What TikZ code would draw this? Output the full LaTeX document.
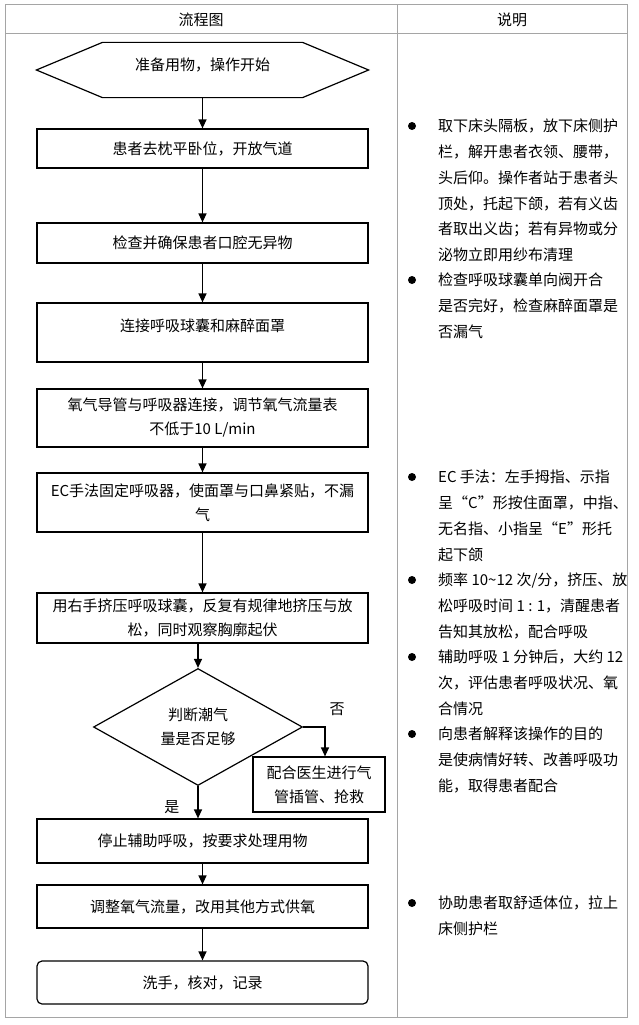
\documentclass[tikz,border=0pt]{standalone}
\usepackage{fontspec}
\setmainfont{Noto Sans CJK SC}
\usepackage{xcolor}
\usepackage{tikz}
\usetikzlibrary{
  shapes.geometric,
  arrows.meta,
  positioning,
  calc
}
\definecolor{tablegray}{RGB}{165,165,165}

\begin{document}
\begin{tikzpicture}[
  x=1pt, y=-1pt,
  every node/.style={font=\fontsize{15}{24}\selectfont},
  stepbox/.style={rectangle, draw, line width=1.2pt, minimum width=331pt,
    align=center, inner sep=2pt},
  decision/.style={diamond, draw, line width=1.2pt, aspect=1.79,
    minimum width=209pt, minimum height=117pt, inner sep=0pt, align=center},
  bulletdot/.style={circle, fill, minimum size=8pt, inner sep=0pt},
  notetext/.style={anchor=base west, align=left, inner sep=0pt,
    font=\fontsize{15}{25.8}\selectfont},
  edgelabel/.style={inner sep=0pt},
  arr/.style={-{Triangle[length=9pt,width=8pt]}, line width=1.2pt},
]
  \useasboundingbox (0,0) rectangle (639,1025);

  % Table
  \draw[tablegray, line width=1pt] (5,5) rectangle (627,1017);
  \draw[tablegray, line width=1pt] (397,5) -- (397,1017);
  \draw[tablegray, line width=1pt] (5,34) -- (627,34);
  \node (hflow) at (201,20) {流程图};
  \node (hnote) at (512,20) {说明};

  % Flow nodes
  \node[stepbox, draw=none, minimum height=54pt] (start) at (202.5,70) {准备用物，操作开始\\[-12pt]\mbox{}};
  \draw[line width=1.2pt] (start.west) -- ([xshift=66pt]start.north west)
    -- ([xshift=-66pt]start.north east) -- (start.east)
    -- ([xshift=-66pt]start.south east) -- ([xshift=66pt]start.south west) -- cycle;
  \node[stepbox, minimum height=39pt] (pos) at (202.5,148.5) {患者去枕平卧位，开放气道};
  \node[stepbox, minimum height=40pt] (mouth) at (202.5,243) {检查并确保患者口腔无异物};
  \node[stepbox, minimum height=59pt] (mask) at (202.5,332.5) {连接呼吸球囊和麻醉面罩\\[-9pt]\mbox{}};
  \node[stepbox, minimum height=58pt] (oxy) at (202.5,418) {氧气导管与呼吸器连接，调节氧气流量表\\不低于10 L/min};
  \node[stepbox, minimum height=59pt] (ec) at (202.5,502.5) {EC手法固定呼吸器，使面罩与口鼻紧贴，不漏\\气};
  \node[stepbox, minimum height=50pt] (press) at (202.5,618) {用右手挤压呼吸球囊，反复有规律地挤压与放\\松，同时观察胸廓起伏};
  \node[decision] (judge) at (198,727) {判断潮气\\量是否足够};
  \node[stepbox, minimum width=132pt, minimum height=55pt] (rescue) at (319,784.5) {配合医生进行气\\管插管、抢救};
  \node[stepbox, minimum height=44pt] (stop) at (202.5,841) {停止辅助呼吸，按要求处理用物};
  \node[stepbox, minimum height=43pt] (adjust) at (202.5,906.5) {调整氧气流量，改用其他方式供氧};
  \node[stepbox, rounded corners=5pt, minimum height=43pt] (wash) at (202.5,982.5) {洗手，核对，记录};

  % Flow edges
  \draw[arr] (start) -- (pos);
  \draw[arr] (pos) -- (mouth);
  \draw[arr] (mouth) -- (mask);
  \draw[arr] (mask) -- (oxy);
  \draw[arr] (oxy) -- (ec);
  \draw[arr] (ec) -- (press);
  \draw[arr] (press.south -| judge) -- (judge.north);
  \draw[arr] (judge.east) -| node[edgelabel, pos=0.5, xshift=12pt, yshift=18pt] {否} ([xshift=6pt]rescue.north);
  \draw[arr] (judge.south) -- node[edgelabel, pos=0.65, left=18pt] {是} (judge.south |- stop.north);
  \draw[arr] (stop) -- (adjust);
  \draw[arr] (adjust) -- (wash);

  % Notes (placed at the baseline of their last line)
  \node[bulletdot] (b1) at (412,126) {};
  \node[notetext] (n1) at (438,260.7) {取下床头隔板，放下床侧护\\栏，解开患者衣领、腰带，\\头后仰。操作者站于患者头\\顶处，托起下颌，若有义齿\\者取出义齿；若有异物或分\\泌物立即用纱布清理};
  \node[bulletdot] (b2) at (412,280) {};
  \node[notetext] (n2) at (438,337.3) {检查呼吸球囊单向阀开合\\是否完好，检查麻醉面罩是\\否漏气};
  \node[bulletdot] (b3) at (412,477) {};
  \node[notetext] (n3) at (438,560.1) {EC 手法：左手拇指、示指\\呈“C”形按住面罩，中指、\\无名指、小指呈“E”形托\\起下颌};
  \node[bulletdot] (b4) at (412,580) {};
  \node[notetext] (n4) at (438,637.3) {频率 10\textasciitilde12 次/分，挤压、放\\松呼吸时间 1 : 1，清醒患者\\告知其放松，配合呼吸};
  \node[bulletdot] (b5) at (412,657) {};
  \node[notetext] (n5) at (438,714.3) {辅助呼吸 1 分钟后，大约 12\\次，评估患者呼吸状况、氧\\合情况};
  \node[bulletdot] (b6) at (412,734) {};
  \node[notetext] (n6) at (438,791.3) {向患者解释该操作的目的\\是使病情好转、改善呼吸功\\能，取得患者配合};
  \node[bulletdot] (b7) at (412,903) {};
  \node[notetext] (n7) at (438,934.5) {协助患者取舒适体位，拉上\\床侧护栏};
\end{tikzpicture}
\end{document}
